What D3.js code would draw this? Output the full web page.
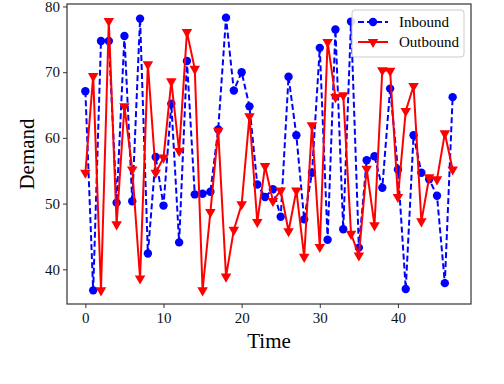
<!DOCTYPE html>
<html>
<head>
<meta charset="utf-8">
<script src="https://cdn.jsdelivr.net/npm/d3@7"></script>
<style>
  body { margin: 0; background: #fff; }
  svg { font-family: "Liberation Serif", "DejaVu Serif", serif; }
</style>
</head>
<body>
<div id="chart"></div>
<script>
// demand per time step
const inbound = [67.1, 36.8, 74.75, 74.75, 50.15, 75.5, 50.35, 78.15, 42.4, 57.1,
  49.7, 65.2, 44.1, 71.7, 51.4, 51.5, 51.8, 61.3, 78.3, 67.2,
  70.0, 64.8, 52.9, 51.0, 52.2, 48.0, 69.3, 60.4, 47.6, 54.7,
  73.7, 44.5, 76.5, 46.1, 77.7, 43.3, 56.6, 57.2, 52.4, 67.5,
  55.2, 37.0, 60.4, 54.7, 53.7, 51.2, 37.9, 66.2];
const outbound = [54.7, 69.4, 36.8, 77.8, 46.85, 64.8, 55.2, 38.6, 71.2, 54.7,
  57.0, 68.6, 58.0, 76.1, 70.5, 36.8, 48.7, 61.1, 38.9, 46.0,
  49.9, 63.3, 47.2, 55.7, 50.4, 52.0, 45.8, 52.0, 41.9, 61.9,
  43.4, 74.6, 66.2, 66.5, 45.4, 42.1, 55.3, 46.7, 70.3, 70.2,
  51.0, 64.1, 67.9, 47.3, 54.0, 53.7, 60.7, 55.2];
const xTicks = [0, 10, 20, 30, 40];
const yTicks = [40, 50, 60, 70, 80];
const seriesNames = ['Inbound', 'Outbound'];

const W = 504, H = 384;
const margin = {left: 67, right: 33, top: 4, bottom: 80};
const w = W - margin.left - margin.right,
    h = H - margin.top - margin.bottom;

const svg = d3.select('#chart').append('svg')
    .attr('width', W)
    .attr('height', H);

const g = svg.append('g')
    .attr('transform', 'translate(' + margin.left + ',' + margin.top + ')');

const n = inbound.length;
const allVals = inbound.concat(outbound);
const ymin = d3.min(allVals), ymax = d3.max(allVals);
const padX = (n - 1) * 0.05, padY = (ymax - ymin) * 0.05;

let x = d3.scaleLinear().domain([-padX, n - 1 + padX]).range([0, w]);
let y = d3.scaleLinear().domain([ymin - padY, ymax + padY]).range([h, 0]);

// axes
const xAxis = g.append('g')
    .attr('transform', 'translate(0,' + h + ')')
    .call(d3.axisBottom(x).tickValues(xTicks).tickSize(4).tickPadding(4));
const yAxis = g.append('g')
    .call(d3.axisLeft(y).tickValues(yTicks).tickSize(4).tickPadding(3));
[xAxis, yAxis].forEach(a => {
    a.select('.domain').remove();
    a.selectAll('line').attr('stroke', '#333').attr('stroke-width', 1);
    a.selectAll('text').attr('font-size', 15).attr('fill', '#111')
        .attr('font-family', '"Liberation Serif", serif');
});

g.append('rect')
    .attr('width', w).attr('height', h)
    .attr('fill', 'none').attr('stroke', '#333').attr('stroke-width', 1.2);

// labels
svg.append('text')
    .attr('x', margin.left + w / 2).attr('y', 348)
    .attr('text-anchor', 'middle').attr('font-size', 21).text('Time');
svg.append('text')
    .attr('transform', 'translate(34,' + (margin.top + h / 2) + ') rotate(-90)')
    .attr('text-anchor', 'middle').attr('font-size', 21).text('Demand');

const line = d3.line().x((d, i) => x(i)).y(d => y(d));

// inbound: blue dashed with circles
g.append('path').datum(inbound)
    .attr('d', line).attr('fill', 'none')
    .attr('stroke', 'blue').attr('stroke-width', 2)
    .attr('stroke-dasharray', '6,3');
g.selectAll('.pin').data(inbound).enter().append('circle')
    .attr('class', 'pin')
    .attr('cx', (d, i) => x(i)).attr('cy', d => y(d))
    .attr('r', 4.2).attr('fill', 'blue');

// outbound: red solid with down triangles
const tri = d3.symbol().type(d3.symbolTriangle).size(48);
g.append('path').datum(outbound)
    .attr('d', line).attr('fill', 'none')
    .attr('stroke', 'red').attr('stroke-width', 2);
g.selectAll('.pout').data(outbound).enter().append('path')
    .attr('class', 'pout')
    .attr('d', tri)
    .attr('transform', (d, i) => 'translate(' + x(i) + ',' + y(d) + ') rotate(180)')
    .attr('fill', 'red');

// legend
const lg = svg.append('g').attr('transform', 'translate(352,10)');
lg.append('rect')
    .attr('width', 112).attr('height', 47).attr('rx', 3)
    .attr('fill', 'white').attr('fill-opacity', 0.85)
    .attr('stroke', '#ccc').attr('stroke-width', 1);
seriesNames.forEach((name, k) => {
    const yy = 12 + k * 20;
    const row = lg.append('g').attr('transform', 'translate(0,' + yy + ')');
    row.append('line')
        .attr('x1', 6).attr('x2', 36)
        .attr('stroke', k === 0 ? 'blue' : 'red').attr('stroke-width', 2)
        .attr('stroke-dasharray', k === 0 ? '6,3' : null);
    if (k === 0) {
        row.append('circle').attr('cx', 21).attr('r', 4.2).attr('fill', 'blue');
    } else {
        row.append('path').attr('d', tri)
            .attr('transform', 'translate(21,0) rotate(180)').attr('fill', 'red');
    }
    row.append('text')
        .attr('x', 47).attr('y', 5)
        .attr('font-size', 15).text(name);
});
</script>
</body>
</html>
